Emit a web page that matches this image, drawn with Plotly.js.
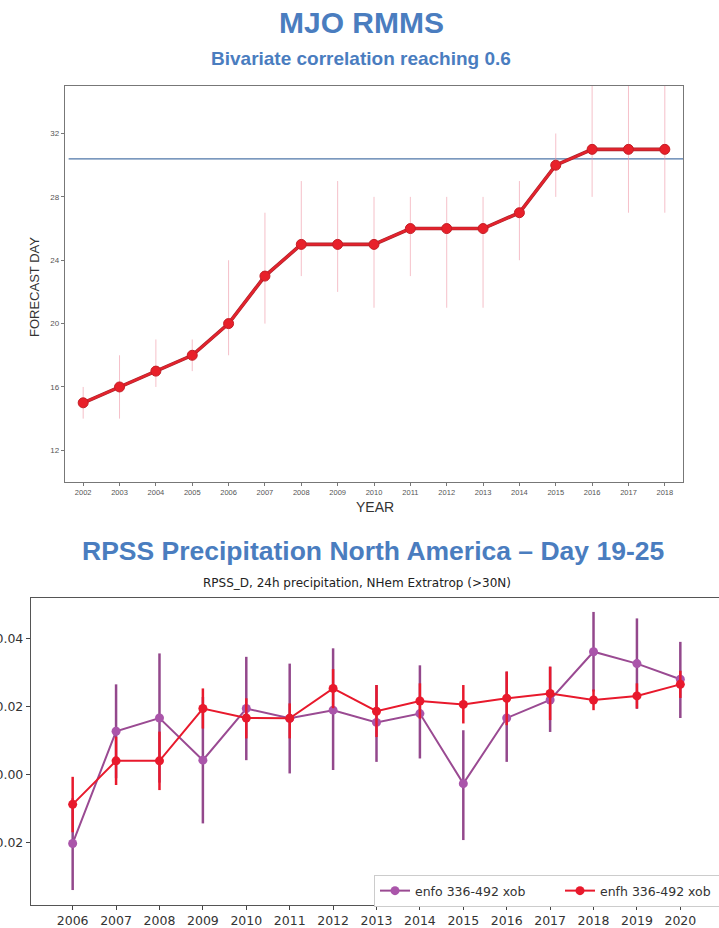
<!DOCTYPE html>
<html>
<head>
<meta charset="utf-8">
<script src="https://cdn.plot.ly/plotly-3.0.1.min.js"></script>
<style>
html,body{margin:0;padding:0;background:#fff;overflow:hidden;width:719px;height:928px;}
#chart{position:absolute;left:-40px;top:0;width:800px;height:928px;}
</style>
</head>
<body>
<div id="chart"></div>
<script>
// ---- Top chart: MJO RMMS ----
const mjoYears = [2002,2003,2004,2005,2006,2007,2008,2009,2010,2011,2012,2013,2014,2015,2016,2017,2018];
const mjoDay   = [15,16,17,18,20,23,25,25,25,26,26,26,27,30,31,31,31];
const mjoHigh  = [16,18,19,19,24,27,29,29,28,28,28,28,29,32,35,35,35];
const mjoLow   = [14,14,16,17,18,20,23,22,21,23,21,21,24,28,28,27,27];
const mjoThreshold = 30.4;
const mjoYTicks = [12,16,20,24,28,32];

// ---- Bottom chart: RPSS precipitation ----
const rpssYears = [2006,2007,2008,2009,2010,2011,2012,2013,2014,2015,2016,2017,2018,2019,2020];
const enfoVal  = [-0.0203,0.0127,0.0166,0.0042,0.0194,0.0165,0.0189,0.0153,0.0179,-0.0027,0.0166,0.0219,0.0361,0.0326,0.0280];
const enfoHigh = [-0.0070,0.0265,0.0356,0.0228,0.0346,0.0326,0.0371,0.0263,0.0321,0.0130,0.0302,0.0317,0.0478,0.0459,0.0390];
const enfoLow  = [-0.0340,-0.0011,-0.0024,-0.0144,0.0042,0.0003,0.0013,0.0037,0.0047,-0.0193,0.0037,0.0125,0.0244,0.0193,0.0166];
const enfhVal  = [-0.0088,0.0040,0.0040,0.0194,0.0166,0.0165,0.0253,0.0186,0.0216,0.0206,0.0224,0.0238,0.0219,0.0231,0.0265];
const enfhHigh = [-0.0007,0.0111,0.0126,0.0253,0.0224,0.0209,0.0310,0.0263,0.0268,0.0263,0.0303,0.0317,0.0250,0.0268,0.0305];
const enfhLow  = [-0.0170,-0.0031,-0.0046,0.0135,0.0106,0.0106,0.0195,0.0110,0.0164,0.0150,0.0145,0.0160,0.0189,0.0194,0.0225];
const rpssYTicks = [-0.02,0.00,0.02,0.04];

const plus = (hi, v) => hi.map((h,i)=>h-v[i]);
const minus = (lo, v) => lo.map((l,i)=>v[i]-l);

const traces = [
  {x:[mjoYears[0]-0.4, mjoYears[mjoYears.length-1]+0.6], y:[mjoThreshold, mjoThreshold], xaxis:'x', yaxis:'y',
   mode:'lines', line:{color:'#4f76a8', width:1.3}, showlegend:false, hoverinfo:'skip'},
  {x:mjoYears, y:mjoDay, xaxis:'x', yaxis:'y', mode:'lines', showlegend:false,
   line:{color:'#a8242c', width:3.6}, hoverinfo:'skip'},
  {x:mjoYears, y:mjoDay, xaxis:'x', yaxis:'y', mode:'lines+markers', showlegend:false,
   line:{color:'#e3232d', width:2.4}, marker:{color:'#e8202a', size:10, line:{color:'#c41e26', width:1}},
   error_y:{type:'data', symmetric:false, array:plus(mjoHigh,mjoDay), arrayminus:minus(mjoLow,mjoDay),
            color:'rgba(238,150,165,0.6)', thickness:1, width:0}},
  {x:rpssYears, y:enfoVal, xaxis:'x2', yaxis:'y2', mode:'lines+markers', name:'enfo 336-492 xob',
   line:{color:'#9a4a92', width:2}, marker:{color:'#aa55aa', size:9},
   error_y:{type:'data', symmetric:false, array:plus(enfoHigh,enfoVal), arrayminus:minus(enfoLow,enfoVal),
            color:'#93488c', thickness:2.5, width:0}},
  {x:rpssYears, y:enfhVal, xaxis:'x2', yaxis:'y2', mode:'lines+markers', name:'enfh 336-492 xob',
   line:{color:'#e8192c', width:2}, marker:{color:'#e8192c', size:9},
   error_y:{type:'data', symmetric:false, array:plus(enfhHigh,enfhVal), arrayminus:minus(enfhLow,enfhVal),
            color:'#e8192c', thickness:2.5, width:0}}
];

const W = 800, H = 928, OFF = 40;
const px = p => (p + OFF) / W;
const py = p => 1 - p / H;

const ann = (text, x, y, font, extra) => Object.assign({text, x:px(x), y:py(y), xref:'paper', yref:'paper',
  showarrow:false, xanchor:'center', yanchor:'middle', font}, extra || {});

const layout = {
  width: W, height: H,
  margin:{l:0, r:0, t:0, b:0},
  paper_bgcolor:'#fff', plot_bgcolor:'#fff',
  font:{family:'Liberation Sans, Arial, sans-serif', color:'#333'},
  showlegend:true,
  xaxis:{domain:[px(65), px(683)], anchor:'y', range:[2001.5, 2018.5],
         tickvals:mjoYears, ticktext:mjoYears.map(String), ticks:'outside', ticklen:3, tickcolor:'#777',
         tickfont:{size:7.5, color:'#555'}, showgrid:false, zeroline:false,
         showline:true, linecolor:'#777', linewidth:1.3, mirror:true},
  yaxis:{domain:[py(482), py(86)], anchor:'x', range:[10, 35],
         tickvals:mjoYTicks, ticks:'outside', ticklen:3, tickcolor:'#777',
         tickfont:{size:8, color:'#555'}, showgrid:false, zeroline:false,
         showline:true, linecolor:'#777', linewidth:1.3, mirror:true},
  xaxis2:{domain:[px(31), px(722)], anchor:'y2', range:[2005.04, 2020.96],
          tickvals:rpssYears, ticktext:rpssYears.map(String), ticks:'outside', ticklen:4, tickcolor:'#444',
          tickfont:{family:'DejaVu Sans, sans-serif', size:12.5, color:'#333'}, showgrid:false, zeroline:false,
          showline:true, linecolor:'#555', linewidth:1.2, mirror:true},
  yaxis2:{domain:[py(905), py(598)], anchor:'x2', range:[-0.0384, 0.0519],
          tickvals:rpssYTicks, tickformat:'.2f', ticks:'outside', ticklen:4, tickcolor:'#444',
          tickfont:{family:'DejaVu Sans, sans-serif', size:12.5, color:'#333'}, showgrid:false, zeroline:false,
          showline:true, linecolor:'#555', linewidth:1.2, mirror:true},
  legend:{orientation:'h', x:px(374), y:py(875), xanchor:'left', yanchor:'top',
          bgcolor:'#fff', bordercolor:'#ccc', borderwidth:1,
          entrywidth:140, entrywidthmode:'pixels', tracegroupgap:0,
          font:{family:'DejaVu Sans, sans-serif', size:12.5, color:'#333'}},
  annotations:[
    ann('<b>MJO RMMS</b>', 362, 23, {size:30, color:'#4a7dbf', family:'Liberation Sans, Arial, sans-serif'}),
    ann('<b>Bivariate correlation reaching 0.6</b>', 361, 58, {size:19, color:'#4a7dbf', family:'Liberation Sans, Arial, sans-serif'}),
    ann('FORECAST DAY', 35, 287, {size:13, color:'#333'}, {textangle:-90}),
    ann('YEAR', 375, 507, {size:14, color:'#333'}),
    ann('<b>RPSS Precipitation North America – Day 19-25</b>', 373, 551, {size:26.5, color:'#4a7dbf', family:'Liberation Sans, Arial, sans-serif'}),
    ann('RPSS_D, 24h precipitation, NHem Extratrop (>30N)', 357, 583, {size:12, color:'#222', family:'DejaVu Sans, sans-serif'})
  ]
};

Plotly.newPlot('chart', traces, layout, {staticPlot:true, displayModeBar:false});
</script>
</body>
</html>
